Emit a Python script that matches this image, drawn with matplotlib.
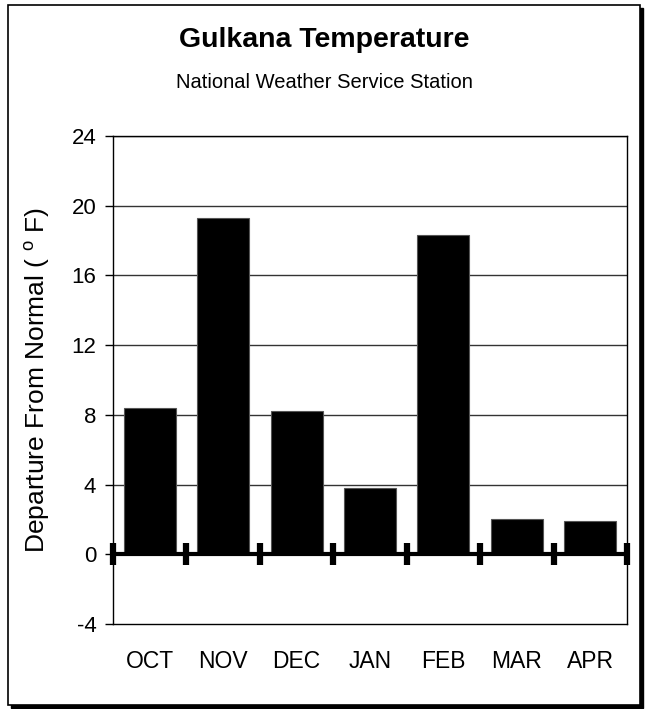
import matplotlib.pyplot as plt
from matplotlib.patches import Rectangle

plt.rcParams['font.family'] = ['Liberation Sans', 'DejaVu Sans']
plt.rcParams['mathtext.fontset'] = 'custom'
plt.rcParams['mathtext.rm'] = 'Liberation Sans'

# Dados (desvio da temperatura normal, °F)
meses = ['OCT', 'NOV', 'DEC', 'JAN', 'FEB', 'MAR', 'APR']
desvio = [8.4, 19.3, 8.2, 3.8, 18.3, 2.0, 1.9]
yticks = [-4, 0, 4, 8, 12, 16, 20, 24]

fig = plt.figure(figsize=(6.48, 7.09), dpi=100)

# Moldura com sombra
fig.patches.append(Rectangle((11 / 648, 1 - 708 / 709), 632 / 648, 700 / 709,
                             transform=fig.transFigure, facecolor='black',
                             edgecolor='black', zorder=0))
fig.patches.append(Rectangle((8 / 648, 1 - 705 / 709), 632 / 648, 700 / 709,
                             transform=fig.transFigure, facecolor='white',
                             edgecolor='black', linewidth=1.2, zorder=1))

ax = fig.add_axes([113 / 648, 1 - 624 / 709, 514 / 648, 488 / 709])
ax.set_zorder(2)

x = list(range(len(meses)))
ax.bar(x, desvio, width=0.71, color='black', edgecolor='#555555',
       linewidth=0.8, zorder=3)

ax.set_xlim(-0.5, len(meses) - 0.5)
ax.set_ylim(-4, 24)
ax.set_yticks(yticks)
ax.set_yticklabels([str(v) for v in yticks], fontsize=16)
ax.tick_params(axis='y', direction='out', length=6, width=1, pad=6)

ax.set_xticks(x)
ax.set_xticklabels(meses, fontsize=16.5)
ax.tick_params(axis='x', length=0, pad=19)

for v in yticks[2:]:
    ax.axhline(v, color='#333333', linewidth=1.0, zorder=1)

for s in ax.spines.values():
    s.set_linewidth(1.0)
    s.set_color('black')

# Linha do zero com marcas entre categorias
ax.axhline(0, color='black', linewidth=3, zorder=4)
limites = [i - 0.5 for i in range(len(meses) + 1)]
ax.vlines(limites, -0.62, 0.62, color='black', linewidth=4.5, zorder=5,
          clip_on=False)

ax.set_ylabel(r'Departure From Normal ( $^{\rm o}$ F)', fontsize=19, labelpad=14)

fig.text(0.5, 1 - 40 / 709, 'Gulkana Temperature', ha='center', va='center',
         fontsize=20.5, fontweight='bold')
fig.text(0.5, 1 - 82 / 709, 'National Weather Service Station', ha='center',
         va='center', fontsize=14.5)

plt.savefig('out.png', dpi=100)
